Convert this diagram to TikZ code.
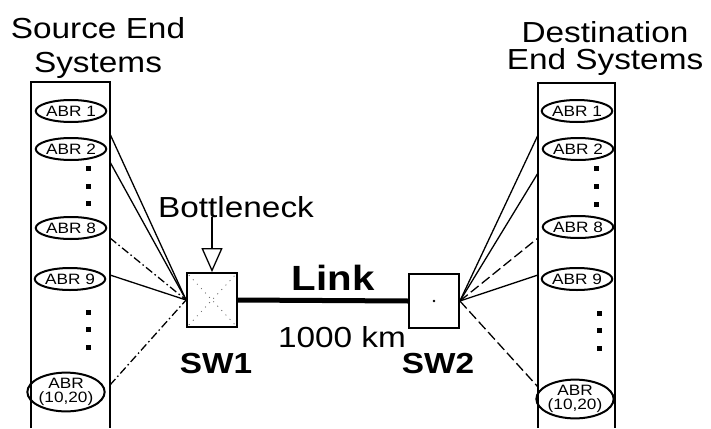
\documentclass[tikz,border=0pt]{standalone}
\usepackage{fontspec}
\setmainfont{Liberation Sans}[FakeStretch=1.15]
\usetikzlibrary{arrows.meta,shapes.geometric}

\begin{document}
\begin{tikzpicture}[x=1pt, y=-1pt,
    abr/.style={ellipse, draw, line width=2pt, minimum width=61pt,
      minimum height=22pt, inner sep=0pt, align=center,
      font=\fontsize{15}{14}\selectfont},
    switch/.style={draw, line width=1.8pt, minimum width=50pt,
      minimum height=54pt, inner sep=0pt},
    feed/.style={line width=1.3pt},
    dashdot/.style={dash pattern=on 8pt off 3pt on 1.5pt off 3pt},
    dashlong/.style={dash pattern=on 10pt off 4pt},
    big/.style={font=\fontsize{29}{29}\selectfont}]
  \useasboundingbox (0,0) rectangle (711,428);

  % Titles
  \node[big, anchor=base, align=center,
    font=\fontsize{29}{34}\selectfont] (srctitle) at (98,72)
    {Source End\\Systems};
  \node[big, anchor=base, align=center,
    font=\fontsize{29}{27}\selectfont] (dsttitle) at (605,70)
    {Destination\\End Systems};

  % End system columns, open at the bottom
  \draw[line width=2pt] (31,428) -- (31,82) -- (110,82) -- (110,428);
  \draw[line width=2pt] (538,428) -- (538,83) -- (615,83) -- (615,428);

  % Source ABR sessions
  \node[abr] (s1) at (71,111) {ABR 1};
  \node[abr] (s2) at (71,149) {ABR 2};
  \node[abr] (s8) at (71,228) {ABR 8};
  \node[abr] (s9) at (70,279) {ABR 9};
  \node[abr, minimum height=35pt] (s10) at (66,392) {ABR\\(10,20)};
  % Destination ABR sessions
  \node[abr] (d1) at (577,111) {ABR 1};
  \node[abr] (d2) at (578,149) {ABR 2};
  \node[abr] (d8) at (578,227) {ABR 8};
  \node[abr] (d9) at (577,279) {ABR 9};
  \node[abr, minimum height=35pt] (d10) at (575,399) {ABR\\(10,20)};

  % Ellipsis dots
  \fill (85.5,165.5) rectangle +(5,5);  \fill (85.5,183.5) rectangle +(5,5);
  \fill (85.5,200.5) rectangle +(5,5);
  \fill (85.5,309.5) rectangle +(5,5);  \fill (85.5,326.5) rectangle +(5,5);
  \fill (85.5,344.5) rectangle +(5,5);
  \fill (593.5,165.5) rectangle +(5,5); \fill (593.5,183.5) rectangle +(5,5);
  \fill (593.5,201.5) rectangle +(5,5);
  \fill (596.5,310.5) rectangle +(5,5); \fill (596.5,327.5) rectangle +(5,5);
  \fill (596.5,345.5) rectangle +(5,5);

  % Switches
  \node[switch] (sw1) at (212,300) {};
  \node[switch] (sw2) at (434,301) {};
  \draw[black!60, line width=0.8pt, dash pattern=on 1pt off 5pt,
    shorten <=4pt, shorten >=4pt] (sw1.north west) -- (sw1.south east);
  \draw[black!60, line width=0.8pt, dash pattern=on 1pt off 5pt,
    shorten <=4pt, shorten >=4pt] (sw1.south west) -- (sw1.north east);
  \fill (sw2.center) circle (1.3pt);
  \node[big, anchor=base, font=\bfseries\fontsize{29}{29}\selectfont]
    (sw1lbl) at (216,373) {SW1};
  \node[big, anchor=base, font=\bfseries\fontsize{29}{29}\selectfont]
    (sw2lbl) at (438,373) {SW2};

  % Bottleneck marker
  \node[big, anchor=base] (bneck) at (236,217) {Bottleneck};
  \draw[-{Triangle[open, length=24pt, width=21pt]}, line width=1.3pt]
    (sw1.north |- bneck.base) -- (sw1.north);

  % The link
  \draw[line width=5pt] (sw1.east) -- (sw2.west);
  \node[anchor=base, font=\bfseries\fontsize{35}{35}\selectfont]
    (link) at (333,290) {Link};
  \node[big, anchor=base] (dist) at (342,347) {1000 km};

  % Source side feeds into SW1
  \coordinate (sa) at (110,134);
  \coordinate (sb) at (110,162);
  \coordinate (sc) at (110,238);
  \coordinate (sd) at (110,275);
  \coordinate (se) at (110,385);
  \draw[feed] (sa) -- (sw1.west);
  \draw[feed] (sb) -- (sw1.west);
  \draw[feed, dashdot] (sc) -- (sw1.west);
  \draw[feed] (sd) -- (sw1.west);
  \draw[feed, dashdot] (se) -- (sw1.west);

  % SW2 fans out to the destinations
  \coordinate (da) at (538,135);
  \coordinate (db) at (538,173);
  \coordinate (dc) at (538,238);
  \coordinate (dd) at (538,275);
  \coordinate (de) at (538,387);
  \draw[feed] (sw2.east) -- (da);
  \draw[feed] (sw2.east) -- (db);
  \draw[feed, dashlong] (sw2.east) -- (dc);
  \draw[feed] (sw2.east) -- (dd);
  \draw[feed, dashlong] (sw2.east) -- (de);
\end{tikzpicture}
\end{document}
